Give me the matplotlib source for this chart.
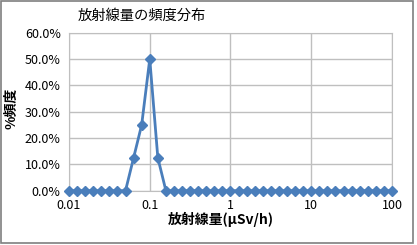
import numpy as np
import matplotlib.pyplot as plt
from matplotlib.patches import Rectangle
from matplotlib.ticker import FuncFormatter

plt.rcParams['font.family'] = ['Noto Sans CJK JP', 'DejaVu Sans']

# dose rate bins (0.1 decade steps, 0.01 .. 100 uSv/h)
dose = [0.01, 0.0126, 0.0158, 0.02, 0.0251, 0.0316, 0.0398, 0.0501, 0.0631,
        0.0794, 0.1, 0.1259, 0.1585, 0.1995, 0.2512, 0.3162, 0.3981, 0.5012,
        0.631, 0.7943, 1.0, 1.2589, 1.5849, 1.9953, 2.5119, 3.1623, 3.9811,
        5.0119, 6.3096, 7.9433, 10.0, 12.589, 15.849, 19.953, 25.119, 31.623,
        39.811, 50.119, 63.096, 79.433, 100.0]
freq = [0.0] * 41
freq[8] = 0.125
freq[9] = 0.25
freq[10] = 0.5
freq[11] = 0.125

xticks = [0.01, 0.1, 1, 10, 100]
xticklabels = ['0.01', '0.1', '1', '10', '100']
yticks = [0.0, 0.1, 0.2, 0.3, 0.4, 0.5, 0.6]

fig = plt.figure(figsize=(4.17, 2.45), dpi=100)
ax = fig.add_axes([0.1655, 0.2216, 0.7745, 0.6449])

ax.plot(dose, freq, color='#4a7ebb', lw=2, marker='D', ms=5.5,
        markeredgecolor='#4a7ebb', clip_on=False, zorder=3)

ax.set_xscale('log')
ax.set_xlim(0.01, 100)
ax.set_ylim(0, 0.6)
ax.set_xticks(xticks)
ax.set_xticklabels(xticklabels)
ax.minorticks_off()
ax.set_yticks(yticks)
ax.yaxis.set_major_formatter(FuncFormatter(lambda v, p: f'{v * 100:.1f}%'))
ax.tick_params(length=0, labelsize=9, pad=6)
ax.grid(True, color='#bfbfbf', lw=1)
for s in ax.spines.values():
    s.set_color('#bfbfbf')

ax.set_xlabel('放射線量(μSv/h)', fontsize=10, fontweight='bold')
ax.xaxis.set_label_coords(0.47, -0.135)
ax.set_ylabel('%頻度', fontsize=10, fontweight='bold')
ax.yaxis.set_label_coords(-0.155, 0.52)
fig.text(0.187, 0.935, '放射線量の頻度分布', fontsize=10.3, ha='left', va='center')

fig.patches.append(Rectangle((0.002, 0.01), 0.988, 0.985, transform=fig.transFigure,
                             fill=False, edgecolor='#7f7f7f', lw=1.2))

fig.savefig('out.png', dpi=100)
